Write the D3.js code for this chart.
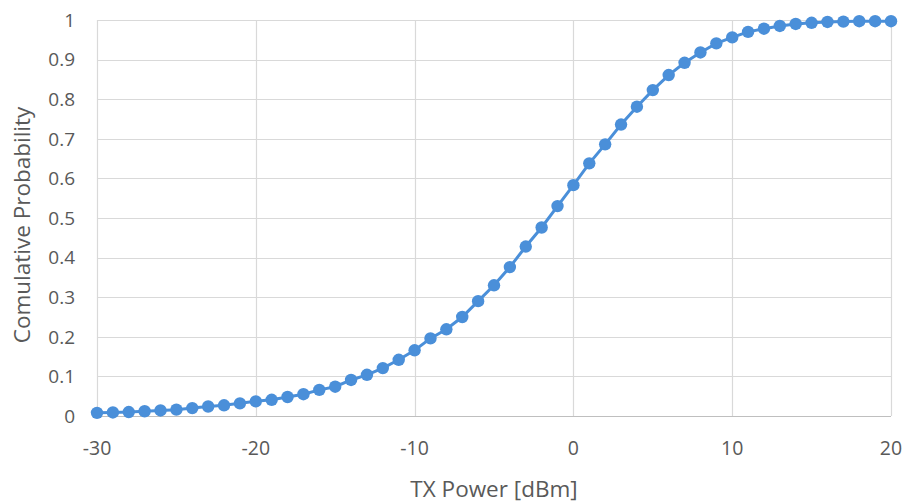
<!DOCTYPE html>
<html>
<head>
<meta charset="utf-8">
<script src="https://cdn.jsdelivr.net/npm/d3@7"></script>
<style>
  body { margin: 0; background: #fff; }
  svg { display: block; }
  text { font-family: "Open Sans", "Lato", sans-serif; fill: #595959; }
</style>
</head>
<body>
<svg id="chart" width="907" height="504"></svg>
<script>
const txPower = d3.range(-30, 21, 1);
const cumProb = [
  0.008, 0.009, 0.010, 0.012, 0.014, 0.016, 0.020, 0.024, 0.027, 0.032,
  0.037, 0.041, 0.048, 0.055, 0.066, 0.074, 0.091, 0.104, 0.121, 0.142,
  0.166, 0.196, 0.219, 0.250, 0.290, 0.330, 0.376, 0.428, 0.476, 0.530,
  0.583, 0.638, 0.686, 0.736, 0.781, 0.823, 0.861, 0.892, 0.918, 0.941,
  0.956, 0.970, 0.978, 0.985, 0.990, 0.993, 0.995, 0.996, 0.997, 0.997,
  0.997
];
const xTicks = [-30, -20, -10, 0, 10, 20];
const yTicks = [0, 0.1, 0.2, 0.3, 0.4, 0.5, 0.6, 0.7, 0.8, 0.9, 1];
const xTitle = "TX Power [dBm]";
const yTitle = "Comulative Probability";

const data = txPower.map((x, i) => ({x, y: cumProb[i]}));
const svg = d3.select("#chart");
const L = 97, R = 891, T = 20, B = 416;
const x = d3.scaleLinear().domain([-30, 20]).range([L, R]);
const y = d3.scaleLinear().domain([0, 1]).range([B, T]);

// gridlines
svg.append("g").selectAll("line.h").data(yTicks.filter(d => d > 0)).join("line")
  .attr("x1", L).attr("x2", R)
  .attr("y1", d => Math.round(y(d)) + 0.5).attr("y2", d => Math.round(y(d)) + 0.5)
  .attr("stroke", "#d9d9d9").attr("stroke-width", 1.2);
svg.append("g").selectAll("line.v").data(xTicks).join("line")
  .attr("y1", T).attr("y2", B)
  .attr("x1", d => Math.round(x(d)) + 0.5).attr("x2", d => Math.round(x(d)) + 0.5)
  .attr("stroke", "#d9d9d9").attr("stroke-width", 1.2);
// bottom axis line
svg.append("line").attr("x1", L).attr("x2", R)
  .attr("y1", Math.round(y(0)) + 0.5).attr("y2", Math.round(y(0)) + 0.5)
  .attr("stroke", "#bfbfbf").attr("stroke-width", 1.2);

// tick labels
svg.append("g").selectAll("text").data(yTicks).join("text")
  .attr("x", 75).attr("y", d => y(d)).attr("dy", "0.36em")
  .attr("text-anchor", "end").attr("font-size", 19)
  .text(d => d3.format("~g")(d));
svg.append("g").selectAll("text").data(xTicks).join("text")
  .attr("x", d => x(d)).attr("y", 455)
  .attr("text-anchor", "middle").attr("font-size", 19.5)
  .text(d => d);

// axis titles
svg.append("text").attr("x", (L + R) / 2).attr("y", 497)
  .attr("text-anchor", "middle").attr("font-size", 22.5).text(xTitle);
svg.append("text").attr("transform", `translate(30,${(T + B) / 2 + 7}) rotate(-90)`)
  .attr("text-anchor", "middle").attr("font-size", 22.5).text(yTitle);

// series
const color = "#4a8fd9";
svg.append("path").datum(data)
  .attr("fill", "none").attr("stroke", color).attr("stroke-width", 3)
  .attr("d", d3.line().x(d => x(d.x)).y(d => y(d.y)));
svg.append("g").selectAll("circle").data(data).join("circle")
  .attr("cx", d => x(d.x)).attr("cy", d => y(d.y)).attr("r", 6.2)
  .attr("fill", color);
</script>
</body>
</html>
